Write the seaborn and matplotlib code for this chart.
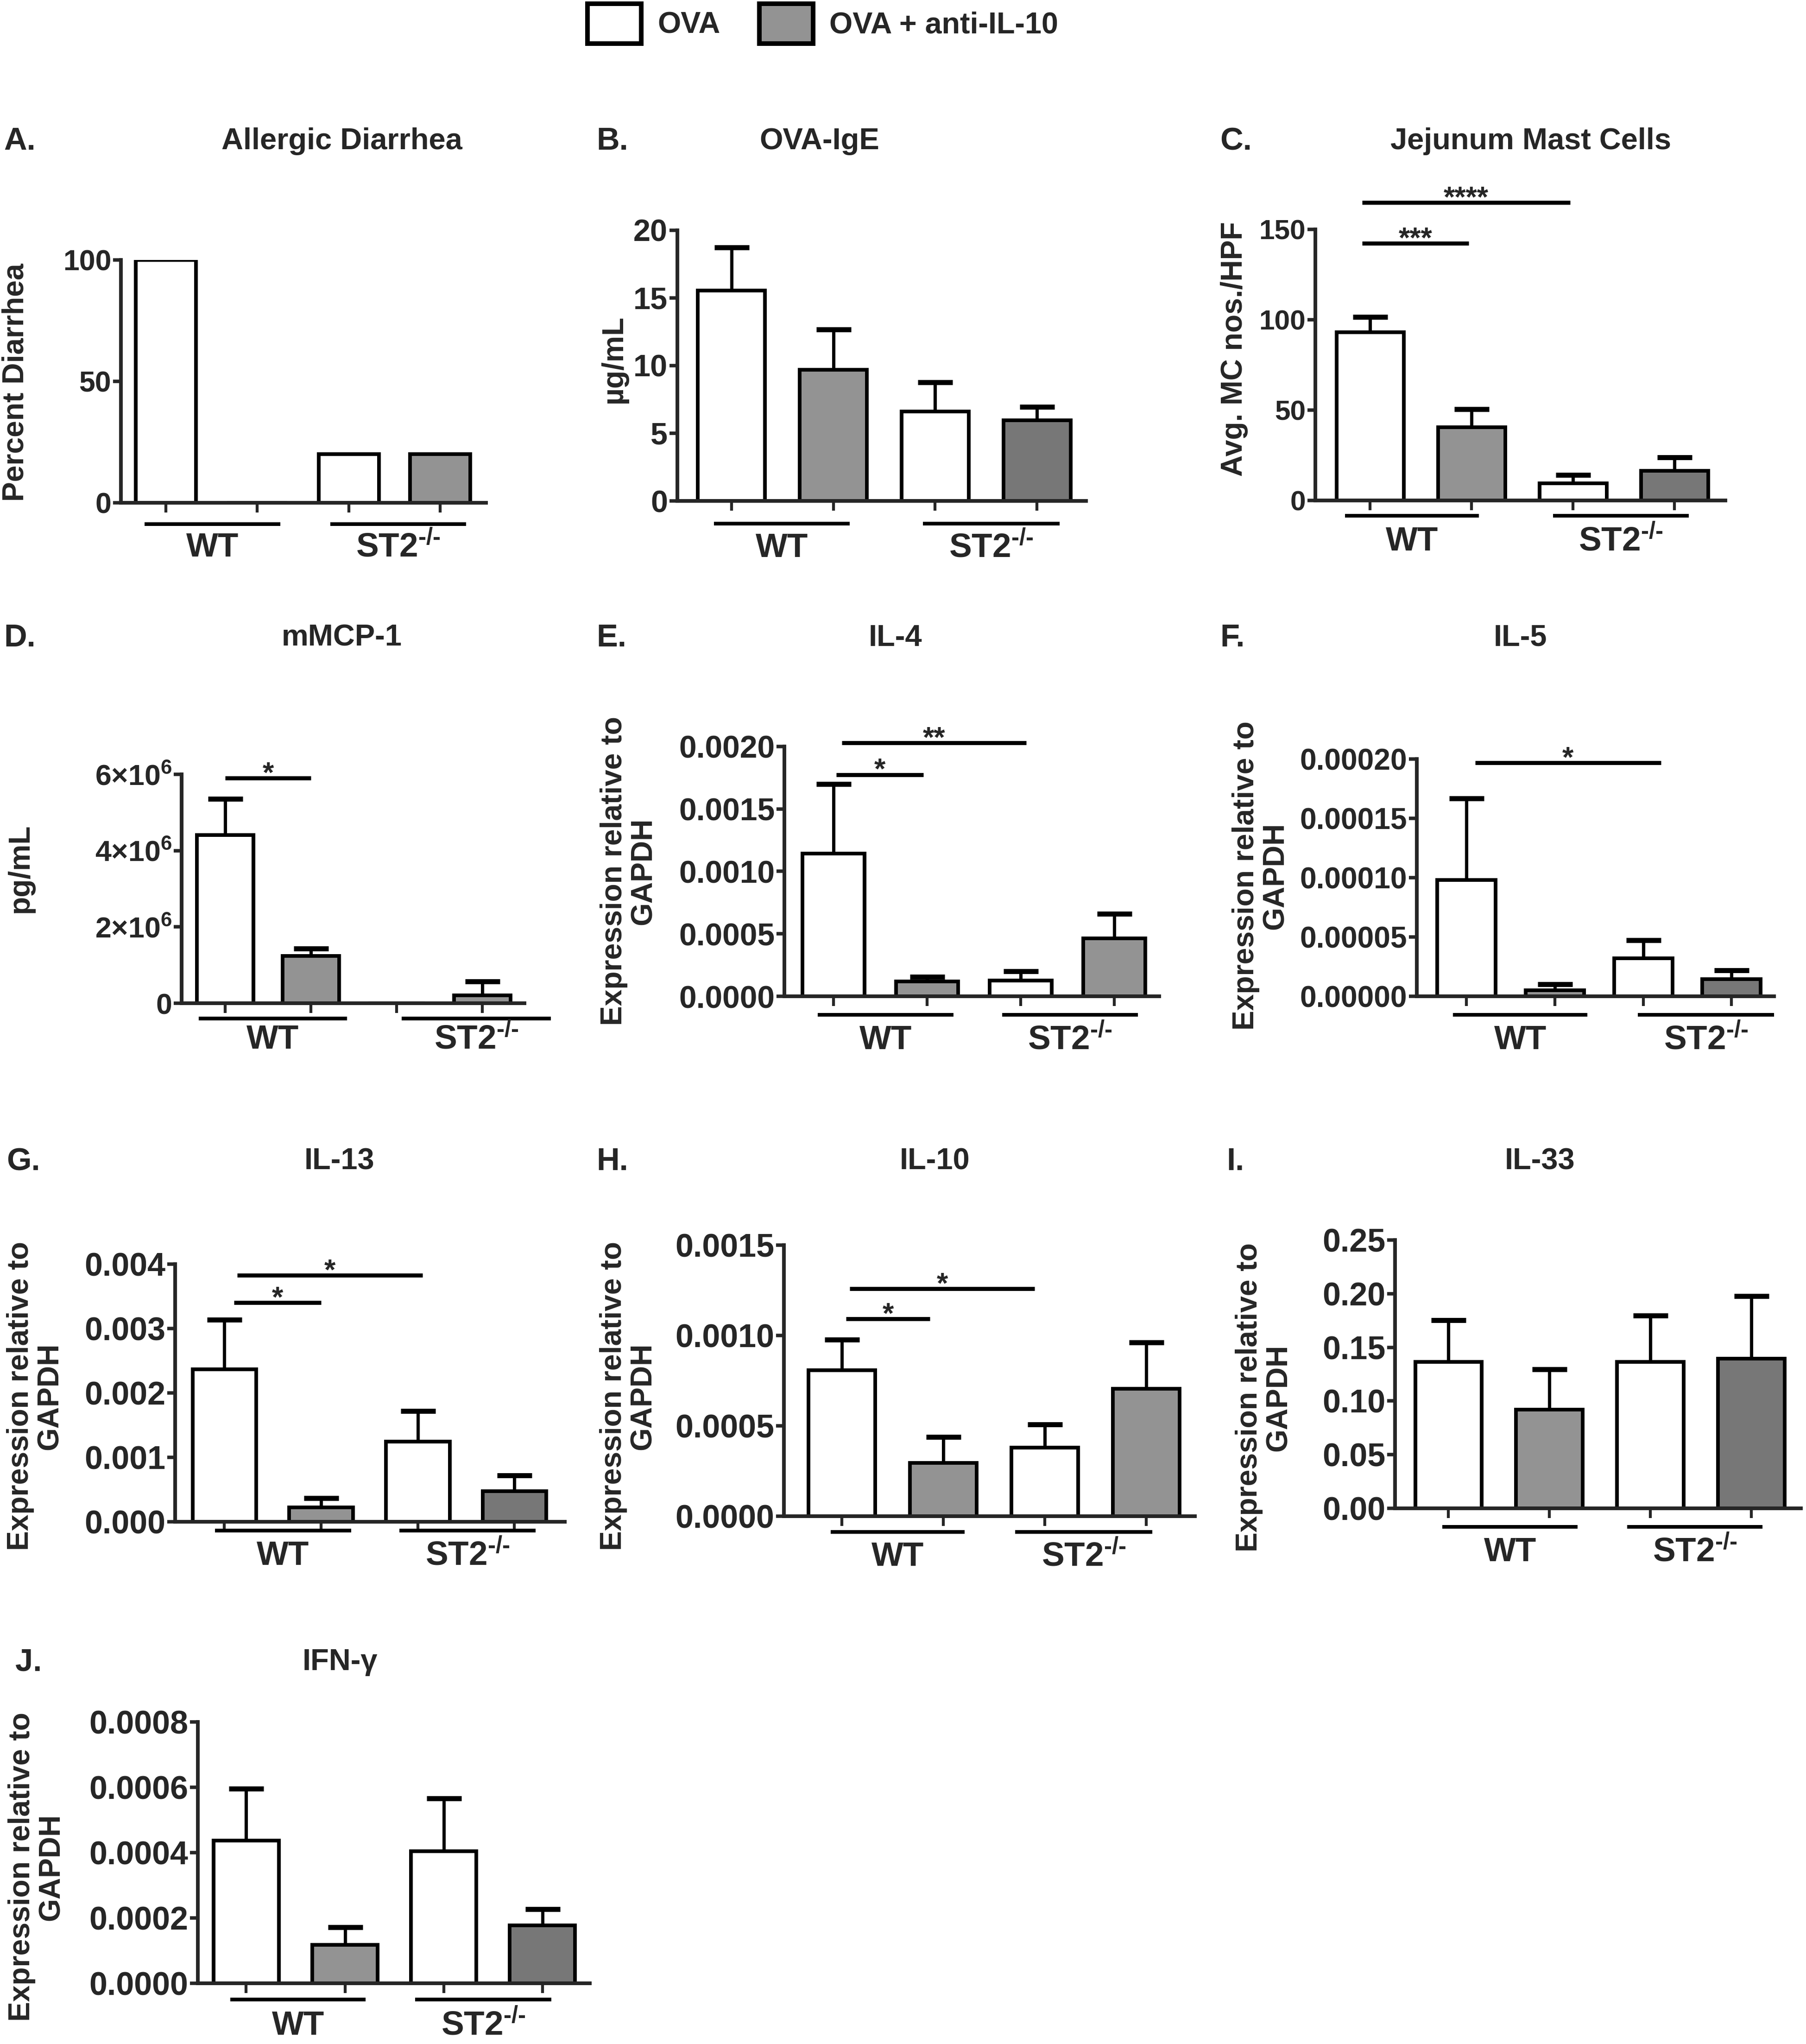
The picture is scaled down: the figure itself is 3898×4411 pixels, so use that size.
import numpy as np
import pandas as pd
import matplotlib
matplotlib.use("Agg")
import matplotlib.pyplot as plt
import seaborn as sns
from matplotlib import transforms
from matplotlib.patches import Patch

# DATA (bar means and upper SEM)

conditions = ["WT OVA", "WT OVA+anti-IL-10", "ST2 OVA", "ST2 OVA+anti-IL-10"]

diarrhea = [100, 0, 20, 20]
diarrhea_err = [0, 0, 0, 0]

ova_ige = [15.55, 9.7, 6.6, 5.97]
ova_ige_err = [3.15, 2.96, 2.17, 0.98]

mast_cells = [93, 40.4, 9.6, 16.5]
mast_cells_err = [8.5, 10.0, 4.4, 7.3]

mmcp1 = [4.41e6, 1.24e6, 0, 0.21e6]
mmcp1_err = [0.95e6, 0.19e6, 0, 0.36e6]

il4 = [0.001142, 0.000119, 0.000127, 0.000464]
il4_err = [0.000557, 0.000038, 0.000072, 0.000197]

il5 = [9.79e-5, 5.2e-6, 3.2e-5, 1.46e-5]
il5_err = [6.88e-5, 4.8e-6, 1.53e-5, 7.4e-6]

il13 = [0.002367, 0.00022, 0.001248, 0.000477]
il13_err = [0.000771, 0.000147, 0.000469, 0.000246]

il10 = [0.000808, 0.000295, 0.000379, 0.000706]
il10_err = [0.00017, 0.000143, 0.000128, 0.000256]

il33 = [0.1366, 0.092, 0.1366, 0.1394]
il33_err = [0.0386, 0.0375, 0.0431, 0.0584]

ifng = [0.000437, 0.000118, 0.000404, 0.000177]
ifng_err = [0.000159, 0.000053, 0.000162, 0.00005]

# y ticks / labels
diarrhea_ticks = [0, 50, 100]
ova_ige_ticks = [0, 5, 10, 15, 20]
mast_ticks = [0, 50, 100, 150]
mmcp1_ticks = [0, 2e6, 4e6, 6e6]
mmcp1_ticklabels = ["0", r"2×10$^{6}$", r"4×10$^{6}$", r"6×10$^{6}$"]
il4_ticks = [0, 0.0005, 0.0010, 0.0015, 0.0020]
il5_ticks = [0, 0.00005, 0.00010, 0.00015, 0.00020]
il13_ticks = [0, 0.001, 0.002, 0.003, 0.004]
il10_ticks = [0, 0.0005, 0.0010, 0.0015]
il33_ticks = [0, 0.05, 0.10, 0.15, 0.20, 0.25]
ifng_ticks = [0, 0.0002, 0.0004, 0.0006, 0.0008]

group_names = ["WT", "ST2$^{\u2010/\u2010}$"]

# significance brackets: (from bar, to bar, height, stars)
mast_sig = [(-0.08, 0.97, 142.3, "***"), (-0.08, 1.97, 164.9, "****")]
mmcp1_sig = [(0.0, 1.0, 5.9e6, "*")]
il4_sig = [(0.03, 0.96, 0.001775, "*"), (0.09, 2.06, 0.00203, "**")]
il5_sig = [(0.1, 2.2, 1.97e-4, "*")]
il13_sig = [(0.1, 1.0, 0.0034, "*"), (0.13, 2.05, 0.003824, "*")]
il10_sig = [(0.04, 0.87, 0.001093, "*"), (0.08, 1.9, 0.001259, "*")]

WHITE = "white"
LIGHT = "#939393"
DARK = "#777777"

# STYLE
sns.set_style("ticks")
plt.rcParams["font.family"] = ["Liberation Sans", "DejaVu Sans"]
plt.rcParams["font.weight"] = "bold"
plt.rcParams["mathtext.fontset"] = "custom"
plt.rcParams["mathtext.rm"] = "Liberation Sans:bold"
plt.rcParams["mathtext.default"] = "rm"

W, H, DPI = 3898, 4411, 300
fig = plt.figure(figsize=(W / DPI, H / DPI), dpi=DPI)


def fx(px):
    return px / W


def fy(py):
    return 1 - py / H


def pts(px):
    return px * 72 / DPI


# PANELS  (layout in pixels of the final image)
panels = [
    dict(letter="A.", title="Allergic Diarrhea", vals=diarrhea, errs=diarrhea_err,
         dark=False, ylabel="Percent Diarrhea", ticks=diarrhea_ticks, fmt="{:.0f}",
         box=(261, 1049, 1085, 561), xlim=(-0.49, 3.5), tsize=15,
         wt=(-0.23, 1.25), st=(1.80, 3.28), goff=(46, 97),
         lab=(34, 825), title_xy=(738, 305), letter_x=8, sig=[]),
    dict(letter="B.", title="OVA-IgE", vals=ova_ige, errs=ova_ige_err,
         dark=True, ylabel="µg/mL", ticks=ova_ige_ticks, fmt="{:.0f}",
         box=(1462, 2344, 1081, 496.5), xlim=(-0.53, 3.48), tsize=16,
         wt=(-0.17, 1.16), st=(1.88, 3.22), goff=(49, 102),
         lab=(1325, 775), title_xy=(1769, 305), letter_x=1287, sig=[]),
    dict(letter="C.", title="Jejunum Mast Cells", vals=mast_cells, errs=mast_cells_err,
         dark=True, ylabel="Avg. MC nos./HPF", ticks=mast_ticks, fmt="{:.0f}",
         box=(2839, 3724, 1080, 495), xlim=(-0.54, 3.5), tsize=14.5,
         wt=(-0.25, 1.07), st=(1.80, 3.14), goff=(33, 89),
         lab=(2664, 753), title_xy=(3304, 305), letter_x=2633, sig=mast_sig),
    dict(letter="D.", title="mMCP-1", vals=mmcp1, errs=mmcp1_err,
         dark=False, ylabel="pg/mL", ticks=mmcp1_ticks, labels=mmcp1_ticklabels,
         box=(392, 1132, 2165, 1671), xlim=(-0.51, 3.49), tsize=15,
         wt=(-0.31, 1.42), st=(2.06, 3.80), goff=(33, 79),
         lab=(44, 1874), title_xy=(738, 1377), letter_x=8, sig=mmcp1_sig),
    dict(letter="E.", title="IL-4", vals=il4, errs=il4_err,
         dark=False, ylabel="Expression relative to\nGAPDH", ticks=il4_ticks, fmt="{:.4f}",
         box=(1693, 2502, 2150, 1611), xlim=(-0.525, 3.48), tsize=16.3,
         wt=(-0.17, 1.28), st=(1.80, 3.25), goff=(40, 95),
         lab=(1357, 1880), title_xy=(1932, 1377), letter_x=1287, sig=il4_sig),
    dict(letter="F.", title="IL-5", vals=il5, errs=il5_err,
         dark=True, ylabel="Expression relative to\nGAPDH", ticks=il5_ticks, fmt="{:.5f}",
         box=(3058, 3829, 2150, 1638), xlim=(-0.56, 3.48), tsize=15.4,
         wt=(-0.15, 1.37), st=(1.94, 3.48), goff=(40, 95),
         lab=(2721, 1890), title_xy=(3281, 1377), letter_x=2633, sig=il5_sig),
    dict(letter="G.", title="IL-13", vals=il13, errs=il13_err,
         dark=True, ylabel="Expression relative to\nGAPDH", ticks=il13_ticks, fmt="{:.3f}",
         box=(378, 1219, 3284, 2728), xlim=(-0.51, 3.52), tsize=16.8,
         wt=(-0.10, 1.31), st=(1.81, 3.22), goff=(19, 74),
         lab=(76, 3013), title_xy=(732, 2507), letter_x=14, sig=il13_sig),
    dict(letter="H.", title="IL-10", vals=il10, errs=il10_err,
         dark=False, ylabel="Expression relative to\nGAPDH", ticks=il10_ticks, fmt="{:.4f}",
         box=(1692, 2579, 3272, 2687), xlim=(-0.57, 3.48), tsize=16.8,
         wt=(-0.11, 1.21), st=(1.71, 3.06), goff=(34, 88),
         lab=(1356, 3013), title_xy=(2017, 2507), letter_x=1287, sig=il10_sig),
    dict(letter="I.", title="IL-33", vals=il33, errs=il33_err,
         dark=True, ylabel="Expression relative to\nGAPDH", ticks=il33_ticks, fmt="{:.2f}",
         box=(3011, 3887, 3255, 2676), xlim=(-0.53, 3.49), tsize=16.8,
         wt=(-0.06, 1.28), st=(1.77, 3.11), goff=(40, 95),
         lab=(2728, 3016), title_xy=(3323, 2507), letter_x=2647, sig=[]),
    dict(letter="J.", title="IFN-γ", vals=ifng, errs=ifng_err,
         dark=True, ylabel="Expression relative to\nGAPDH", ticks=ifng_ticks, fmt="{:.4f}",
         box=(427, 1273, 4280, 3716), xlim=(-0.49, 3.48), tsize=16.8,
         wt=(-0.16, 1.21), st=(1.71, 3.09), goff=(35, 92),
         lab=(79, 4029), title_xy=(734, 3587), letter_x=33, sig=[]),
]

for p in panels:
    x0, x1, y0, ytop = p["box"]
    ax = fig.add_axes([fx(x0), fy(y0), (x1 - x0) / W, (y0 - ytop) / H])

    colors = [WHITE, LIGHT, WHITE, DARK if p["dark"] else LIGHT]
    df = pd.DataFrame({"group": conditions, "value": p["vals"]})
    sns.barplot(data=df, x="group", y="value", hue="group",
                palette=dict(zip(conditions, colors)), width=0.66,
                edgecolor="black", linewidth=1.9, errorbar=None,
                legend=False, ax=ax)

    # upper-only error bars
    errs = np.array(p["errs"], dtype=float)
    if errs.sum() > 0:
        idx = np.where(errs > 0)[0]
        vals = np.array(p["vals"])[idx]
        eb = ax.errorbar(idx, vals, yerr=[np.zeros(len(idx)), errs[idx]],
                         fmt="none", ecolor="black", elinewidth=1.7,
                         capsize=9, capthick=2.6, clip_on=False, zorder=3)
        eb[1][0].set_visible(False)

    ax.set_xlim(*p["xlim"])
    ax.set_ylim(0, p["ticks"][-1])
    ax.set_xticks(range(4), labels=[""] * 4)
    ax.set_yticks(p["ticks"])
    if "labels" in p:
        ax.set_yticklabels(p["labels"])
    else:
        ax.set_yticklabels([p["fmt"].format(t) for t in p["ticks"]])
    ax.set_xlabel("")
    ax.set_ylabel("")
    sns.despine(ax=ax)
    for s in ["left", "bottom"]:
        ax.spines[s].set_linewidth(1.9)
    ax.tick_params(axis="y", length=4, width=1.8, pad=1, labelsize=p["tsize"])
    ax.tick_params(axis="x", length=5, width=1.5)
    for t in ax.get_yticklabels():
        t.set_fontweight("bold")

    # group underlines and labels
    line_off, lab_off = p["goff"]
    trans_line = transforms.offset_copy(ax.get_xaxis_transform(), fig=fig,
                                        y=-pts(line_off), units="points")
    trans_lab = transforms.offset_copy(ax.get_xaxis_transform(), fig=fig,
                                       y=-pts(lab_off), units="points")
    for (g0, g1), name in zip([p["wt"], p["st"]], group_names):
        ax.plot([g0, g1], [0, 0], color="black", lw=1.9, transform=trans_line,
                clip_on=False, solid_capstyle="butt")
        ax.text((g0 + g1) / 2, 0, name, transform=trans_lab, ha="center",
                va="center", fontsize=17.5, fontweight="bold", clip_on=False)

    # significance lines
    for s0, s1, sy, stars in p["sig"]:
        ax.plot([s0, s1], [sy, sy], color="black", lw=2.1, clip_on=False,
                solid_capstyle="butt")
        ax.annotate(stars, xy=((s0 + s1) / 2, sy), xytext=(0, -2),
                    textcoords="offset points", ha="center", va="baseline",
                    fontsize=15, fontweight="bold", annotation_clip=False)

    # y label, title, panel letter
    lx, ly = p["lab"]
    fig.text(fx(lx), fy(ly), p["ylabel"], rotation=90, ha="center", va="center",
             multialignment="center", fontsize=15.4, fontweight="bold", linespacing=1.1)
    tx, ty = p["title_xy"]
    fig.text(fx(tx), fy(ty), p["title"], ha="center", va="center",
             fontsize=15.6, fontweight="bold")
    fig.text(fx(p["letter_x"]), fy(ty), p["letter"], ha="left", va="center",
             fontsize=16.5, fontweight="bold")

# LEGEND
handles = [Patch(facecolor=WHITE, edgecolor="black", linewidth=2.4, label="OVA"),
           Patch(facecolor=LIGHT, edgecolor="black", linewidth=2.4, label="OVA + anti-IL-10")]
fig.legend(handles=handles, loc="upper center", bbox_to_anchor=(fx(1776), fy(8)),
           ncol=2, frameon=False, handlelength=1.8, handleheight=1.66,
           handletextpad=0.55, columnspacing=1.3, borderpad=0, borderaxespad=0,
           prop={"weight": "bold", "size": 15.5})

fig.savefig("out.png", dpi=DPI)
